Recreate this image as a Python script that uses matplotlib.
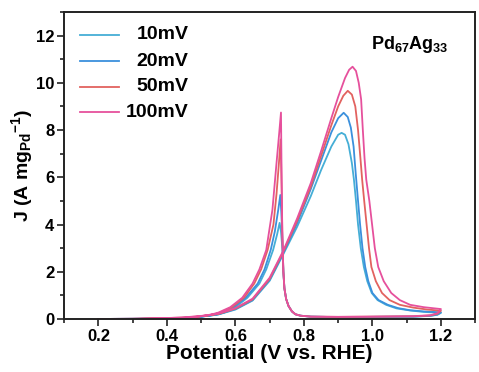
import numpy as np
import matplotlib
matplotlib.use("Agg")
import matplotlib.pyplot as plt
from matplotlib.ticker import MultipleLocator

plt.rcParams['font.family'] = ['Liberation Sans', 'DejaVu Sans']
plt.rcParams['font.weight'] = 'bold'
plt.rcParams['mathtext.fontset'] = 'custom'
plt.rcParams['mathtext.rm'] = 'Liberation Sans:bold'
plt.rcParams['mathtext.bf'] = 'Liberation Sans:bold'
plt.rcParams['mathtext.it'] = 'Liberation Sans:bold'
plt.rcParams['mathtext.default'] = 'rm'

# ---- CV data: forward (anodic) and backward (cathodic) scans ----
labels = ["10mV", "20mV", "50mV", "100mV"]
colors = ["#45aed6", "#3b90dc", "#e2625f", "#e6509c"]

# 10 mV
fwd_E_10 = [0.20, 0.30, 0.40, 0.45, 0.50, 0.55, 0.60, 0.65, 0.70, 0.74, 0.78, 0.82, 0.85, 0.88, 0.90,
            0.91, 0.92, 0.93, 0.94, 0.946, 0.952, 0.958, 0.966, 0.975, 0.985, 0.998, 1.015, 1.04,
            1.07, 1.11, 1.15, 1.20]
fwd_J_10 = [0.00, 0.01, 0.03, 0.05, 0.10, 0.19, 0.40, 0.78, 1.62, 2.75, 3.90, 5.20, 6.30, 7.30, 7.80,
            7.88, 7.80, 7.40, 6.60, 5.90, 5.00, 4.00, 3.00, 2.20, 1.60, 1.10, 0.80, 0.60,
            0.45, 0.36, 0.30, 0.26]
bwd_E_10 = [1.20, 1.19, 1.17, 1.12, 1.00, 0.90, 0.82, 0.79, 0.775, 0.765, 0.755, 0.748, 0.743, 0.740,
            0.737, 0.733, 0.729, 0.722, 0.710, 0.690, 0.670, 0.635, 0.600, 0.565, 0.540, 0.490, 0.450,
            0.400, 0.300, 0.200]
bwd_J_10 = [0.26, 0.18, 0.13, 0.10, 0.09, 0.08, 0.10, 0.14, 0.20, 0.32, 0.55, 0.85, 1.30, 2.00,
            3.00, 3.70, 4.07, 3.60, 2.92, 2.10, 1.50, 0.90, 0.50, 0.27, 0.17, 0.08, 0.04,
            0.02, 0.00, 0.00]

# 20 mV
fwd_E_20 = [0.20, 0.30, 0.40, 0.45, 0.50, 0.55, 0.60, 0.65, 0.70, 0.74, 0.78, 0.82, 0.85, 0.88, 0.90,
            0.916, 0.928, 0.937, 0.945, 0.951, 0.958, 0.964, 0.971, 0.979, 0.988, 1.00, 1.018, 1.045,
            1.075, 1.11, 1.15, 1.20]
fwd_J_20 = [0.00, 0.01, 0.03, 0.05, 0.11, 0.20, 0.42, 0.80, 1.66, 2.80, 4.05, 5.50, 6.70, 7.90, 8.50,
            8.73, 8.55, 8.10, 7.30, 6.20, 5.00, 4.00, 3.00, 2.20, 1.60, 1.10, 0.80, 0.60,
            0.46, 0.37, 0.32, 0.28]
bwd_E_20 = [1.20, 1.19, 1.17, 1.12, 1.00, 0.90, 0.82, 0.79, 0.775, 0.765, 0.755, 0.748, 0.743, 0.740,
            0.737, 0.734, 0.731, 0.725, 0.715, 0.703, 0.685, 0.665, 0.630, 0.595, 0.560, 0.535,
            0.490, 0.450, 0.400, 0.300, 0.200]
bwd_J_20 = [0.28, 0.19, 0.14, 0.10, 0.09, 0.08, 0.10, 0.14, 0.20, 0.32, 0.55, 0.85, 1.30, 2.00,
            3.50, 4.50, 5.25, 4.62, 3.70, 2.92, 2.10, 1.50, 0.90, 0.50, 0.27, 0.17,
            0.08, 0.04, 0.02, 0.00, 0.00]

# 50 mV
fwd_E_50 = [0.20, 0.30, 0.40, 0.45, 0.50, 0.55, 0.60, 0.65, 0.70, 0.74, 0.78, 0.82, 0.85, 0.88, 0.90,
            0.915, 0.928, 0.94, 0.95, 0.958, 0.965, 0.970, 0.976, 0.983, 0.990, 0.997, 1.01, 1.028,
            1.05, 1.08, 1.12, 1.16, 1.20]
fwd_J_50 = [0.00, 0.01, 0.04, 0.06, 0.12, 0.21, 0.44, 0.83, 1.70, 2.85, 4.15, 5.60, 6.90, 8.20, 9.00,
            9.45, 9.66, 9.50, 9.00, 8.00, 6.80, 5.90, 5.00, 4.00, 3.00, 2.20, 1.60, 1.10,
            0.80, 0.60, 0.48, 0.40, 0.35]
bwd_E_50 = [1.20, 1.19, 1.17, 1.12, 1.00, 0.90, 0.82, 0.79, 0.775, 0.765, 0.755, 0.748, 0.743, 0.740,
            0.737, 0.735, 0.732, 0.727, 0.720, 0.711, 0.694, 0.675, 0.655, 0.625, 0.590, 0.555,
            0.530, 0.480, 0.450, 0.400, 0.300, 0.200]
bwd_J_50 = [0.35, 0.22, 0.15, 0.11, 0.10, 0.09, 0.10, 0.14, 0.20, 0.32, 0.55, 0.85, 1.30, 2.00,
            3.50, 5.50, 7.60, 6.60, 5.30, 4.00, 2.92, 2.10, 1.50, 0.90, 0.50, 0.27,
            0.17, 0.08, 0.05, 0.02, 0.00, 0.00]

# 100 mV
fwd_E_100 = [0.20, 0.30, 0.40, 0.45, 0.50, 0.55, 0.60, 0.65, 0.70, 0.74, 0.78, 0.82, 0.85, 0.88, 0.90,
             0.92, 0.932, 0.942, 0.952, 0.960, 0.967, 0.972, 0.977, 0.982, 0.991, 0.999, 1.007, 1.017,
             1.033, 1.055, 1.08, 1.11, 1.15, 1.20]
fwd_J_100 = [0.00, 0.01, 0.04, 0.07, 0.13, 0.23, 0.46, 0.86, 1.75, 2.90, 4.25, 5.75, 7.10, 8.50, 9.40,
             10.20, 10.55, 10.68, 10.50, 10.00, 9.30, 8.00, 6.80, 5.90, 5.00, 4.00, 3.00, 2.20,
             1.60, 1.10, 0.80, 0.60, 0.50, 0.42]
bwd_E_100 = [1.20, 1.19, 1.17, 1.12, 1.00, 0.90, 0.82, 0.79, 0.775, 0.765, 0.755, 0.748, 0.743, 0.740,
             0.737, 0.735, 0.733, 0.728, 0.719, 0.708, 0.690, 0.670, 0.650, 0.620, 0.585, 0.550,
             0.525, 0.480, 0.450, 0.400, 0.300, 0.200]
bwd_J_100 = [0.42, 0.25, 0.16, 0.12, 0.10, 0.09, 0.10, 0.14, 0.20, 0.32, 0.55, 0.85, 1.30, 2.00,
             3.50, 5.80, 8.74, 7.90, 6.44, 4.62, 2.92, 2.10, 1.50, 0.90, 0.50, 0.27,
             0.17, 0.08, 0.05, 0.02, 0.00, 0.00]

series = [
    (fwd_E_10, fwd_J_10, bwd_E_10, bwd_J_10),
    (fwd_E_20, fwd_J_20, bwd_E_20, bwd_J_20),
    (fwd_E_50, fwd_J_50, bwd_E_50, bwd_J_50),
    (fwd_E_100, fwd_J_100, bwd_E_100, bwd_J_100),
]

# ---- plot ----
fig = plt.figure(figsize=(4.79, 3.72), dpi=100)
ax = fig.add_axes([0.134, 0.1425, 0.858, 0.8255])

for (fe, fj, be, bj), c in zip(series, colors):
    E = np.concatenate([fe, be])
    J = np.concatenate([fj, bj])
    ax.plot(E, J, color=c, lw=1.3, solid_joinstyle='round')

ax.set_xlim(0.1, 1.3)
ax.set_ylim(0, 13)
ax.xaxis.set_major_locator(MultipleLocator(0.2))
ax.xaxis.set_minor_locator(MultipleLocator(0.1))
ax.yaxis.set_major_locator(MultipleLocator(2))
ax.yaxis.set_minor_locator(MultipleLocator(1))
ax.set_xticks([0.2, 0.4, 0.6, 0.8, 1.0, 1.2])
ax.set_xticklabels(["0.2", "0.4", "0.6", "0.8", "1.0", "1.2"])
ax.tick_params(which='both', direction='out', top=False, right=False, width=1.2, color='#222222')
ax.tick_params(which='major', length=5, labelsize=12, pad=2)
ax.tick_params(which='minor', length=3)
for lab in ax.get_xticklabels() + ax.get_yticklabels():
    lab.set_fontweight('bold')
for sp in ax.spines.values():
    sp.set_linewidth(1.4)
    sp.set_color('#222222')

ax.set_xlabel("Potential (V vs. RHE)", fontsize=15, fontweight='bold', labelpad=0)
ax.set_ylabel(r"J (A mg$_{Pd}$$^{-1}$)", fontsize=14, fontweight='bold', labelpad=1)

ax.text(0.935, 0.895, r"Pd$_{67}$Ag$_{33}$", transform=ax.transAxes, fontsize=13,
        fontweight='bold', ha='right', va='center')

# legend: short line then right-aligned label
rows = [0.925, 0.84, 0.756, 0.674]
for lab, c, y in zip(labels, colors, rows):
    ax.plot([0.039, 0.134], [y, y], color=c, lw=1.3, transform=ax.transAxes)
    ax.text(0.302, y, lab, transform=ax.transAxes, fontsize=14, fontweight='bold',
            ha='right', va='center')

fig.savefig("out.png", dpi=100)
